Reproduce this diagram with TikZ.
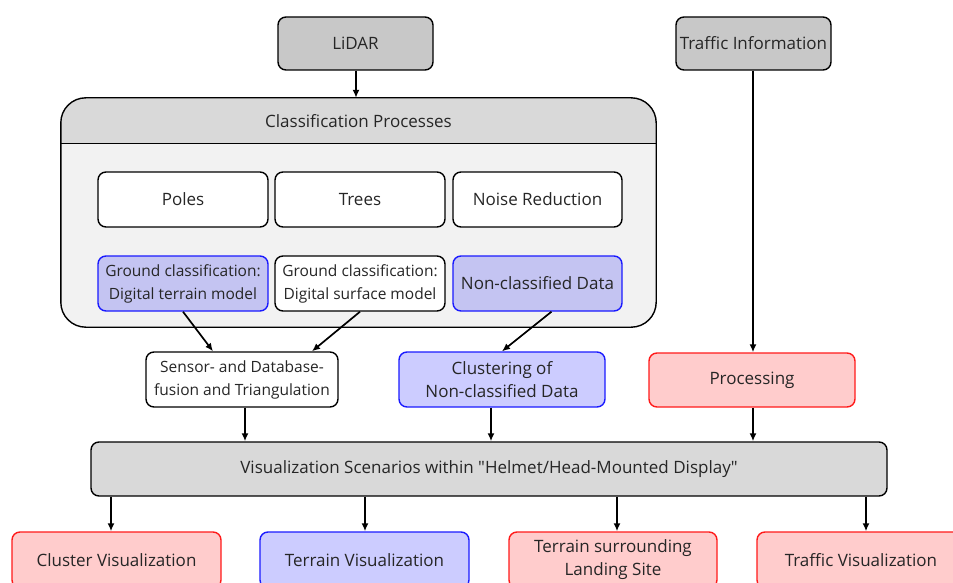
\documentclass[tikz,border=0pt]{standalone}
\usepackage{fontspec}
\setmainfont{Open Sans}
\newfontfamily\qfont{Open Sans}
\usetikzlibrary{arrows.meta,calc}
\definecolor{grayA}{HTML}{C8C8C8}
\definecolor{grayB}{HTML}{D9D9D9}
\definecolor{grayC}{HTML}{F2F2F2}
\definecolor{blueF}{HTML}{CCCCFF}
\definecolor{blueG}{HTML}{C4C4F2}
\definecolor{blueL}{HTML}{1A1AFF}
\definecolor{redF}{HTML}{FFCCCC}
\definecolor{redL}{HTML}{FF1A1A}
\tikzset{
  lbl/.style={font=\fontsize{17}{23}\selectfont, text=black!85},
  small/.style={font=\fontsize{15.5}{23}\selectfont},
  box/.style={draw=black, line width=1.4pt, rounded corners=8pt, fill=white, align=center,
    inner sep=2pt, lbl},
  graybox/.style={box, fill=grayA},
  bluebox/.style={box, draw=blueL, fill=blueF},
  blueinbox/.style={box, draw=blueL, fill=blueG},
  redbox/.style={box, draw=redL, fill=redF},
  arr/.style={line width=1.7pt, -{Latex[length=8pt,width=7pt]}},
}
\begin{document}
\begin{tikzpicture}[x=1pt,y=-1pt]
\useasboundingbox (0,0) rectangle (953,583);
\clip (0,0) rectangle (953,583);
% top sources
\node[graybox, minimum width=155pt, minimum height=53pt] (lidar) at (355.5,43.5) {LiDAR};
\node[graybox, minimum width=155pt, minimum height=53pt] (traffic) at (753.5,43.5) {Traffic Information};
% container
\node[fill=grayC, rounded corners=25pt, minimum width=595pt, minimum height=229pt, inner sep=0pt] (cont) at (358.5,212.5) {};
\begin{scope}
  \clip[rounded corners=25pt] (cont.north west) rectangle (cont.south east);
  \fill[grayB] (cont.north west) rectangle (656,143);
\end{scope}
\draw[line width=0.9pt] (61,143) -- (656,143);
\draw[line width=1.4pt, rounded corners=25pt] (cont.north west) rectangle (cont.south east);
\node[lbl] (conttitle) at (358.5,121) {Classification Processes};
% inner boxes
\node[box, minimum width=170pt, minimum height=55pt] (poles) at (183,199.5) {Poles};
\node[box, minimum width=170pt, minimum height=55pt] (trees) at (360,199.5) {Trees};
\node[box, minimum width=169pt, minimum height=55pt] (noise) at (537.5,199.5) {Noise Reduction};
\node[blueinbox, small, minimum width=170pt, minimum height=55pt] (dtm) at (183,283.5) {Ground classification:\\Digital terrain model};
\node[box, small, minimum width=170pt, minimum height=55pt] (dsm) at (360,283.5) {Ground classification:\\Digital surface model};
\node[blueinbox, minimum width=169pt, minimum height=55pt] (noncl) at (537.5,283.5) {Non-classified Data};
% middle row
\node[box, small, minimum width=192pt, minimum height=55pt] (sensor) at (242,379.5) {Sensor- and Database-\\fusion and Triangulation};
\node[bluebox, minimum width=206pt, minimum height=55pt] (clus) at (502,379.5) {Clustering of\\Non-classified Data};
\node[redbox, minimum width=206pt, minimum height=54pt] (proc) at (752,380) {Processing};
% visualization
\node[box, fill=grayB, minimum width=796pt, minimum height=54pt] (vis) at (489,469) {Visualization Scenarios within {\qfont"}Helmet/Head-Mounted Display{\qfont"}};
% bottom row
\node[redbox, minimum width=209pt, minimum height=56pt] (cv) at (116.5,560) {Cluster Visualization};
\node[bluebox, minimum width=209pt, minimum height=56pt] (tv) at (364.5,560) {Terrain Visualization};
\node[redbox, minimum width=208pt, minimum height=56pt] (ts) at (613,560) {Terrain surrounding\\Landing Site};
\node[redbox, minimum width=208pt, minimum height=56pt] (trv) at (861,560) {Traffic Visualization};
% connector end points
\coordinate (t1) at ($(lidar.south)+(0.5,0)$);
\coordinate (t2) at ($(traffic.south)+(-0.5,0)$);
\coordinate (s1) at ($(sensor.south)+(3,0)$);
\coordinate (s2) at ($(clus.south)+(-11,0)$);
\coordinate (s3) at ($(proc.south)+(1,0)$);
\coordinate (b1) at ($(cv.north)+(-5.5,0)$);
\coordinate (b2) at ($(tv.north)+(0.5,0)$);
\coordinate (b3) at ($(ts.north)+(4,0)$);
\coordinate (b4) at ($(trv.north)+(5,0)$);
% connectors
\draw[arr] (t1) -- (t1 |- cont.north);
\draw[arr] (t2) -- (t2 |- proc.north);
\draw[arr] (dtm.south) -- ($(sensor.north)+(-29,0)$);
\draw[arr] (dsm.south) -- ($(sensor.north)+(70,0)$);
\draw[arr] ($(noncl.south)+(14,0)$) -- (clus.north);
\draw[arr] (s1) -- (s1 |- vis.north);
\draw[arr] (s2) -- (s2 |- vis.north);
\draw[arr] (s3) -- (s3 |- vis.north);
\draw[arr] (b1 |- vis.south) -- (b1);
\draw[arr] (b2 |- vis.south) -- (b2);
\draw[arr] (b3 |- vis.south) -- (b3);
\draw[arr] (b4 |- vis.south) -- (b4);
\end{tikzpicture}
\end{document}
